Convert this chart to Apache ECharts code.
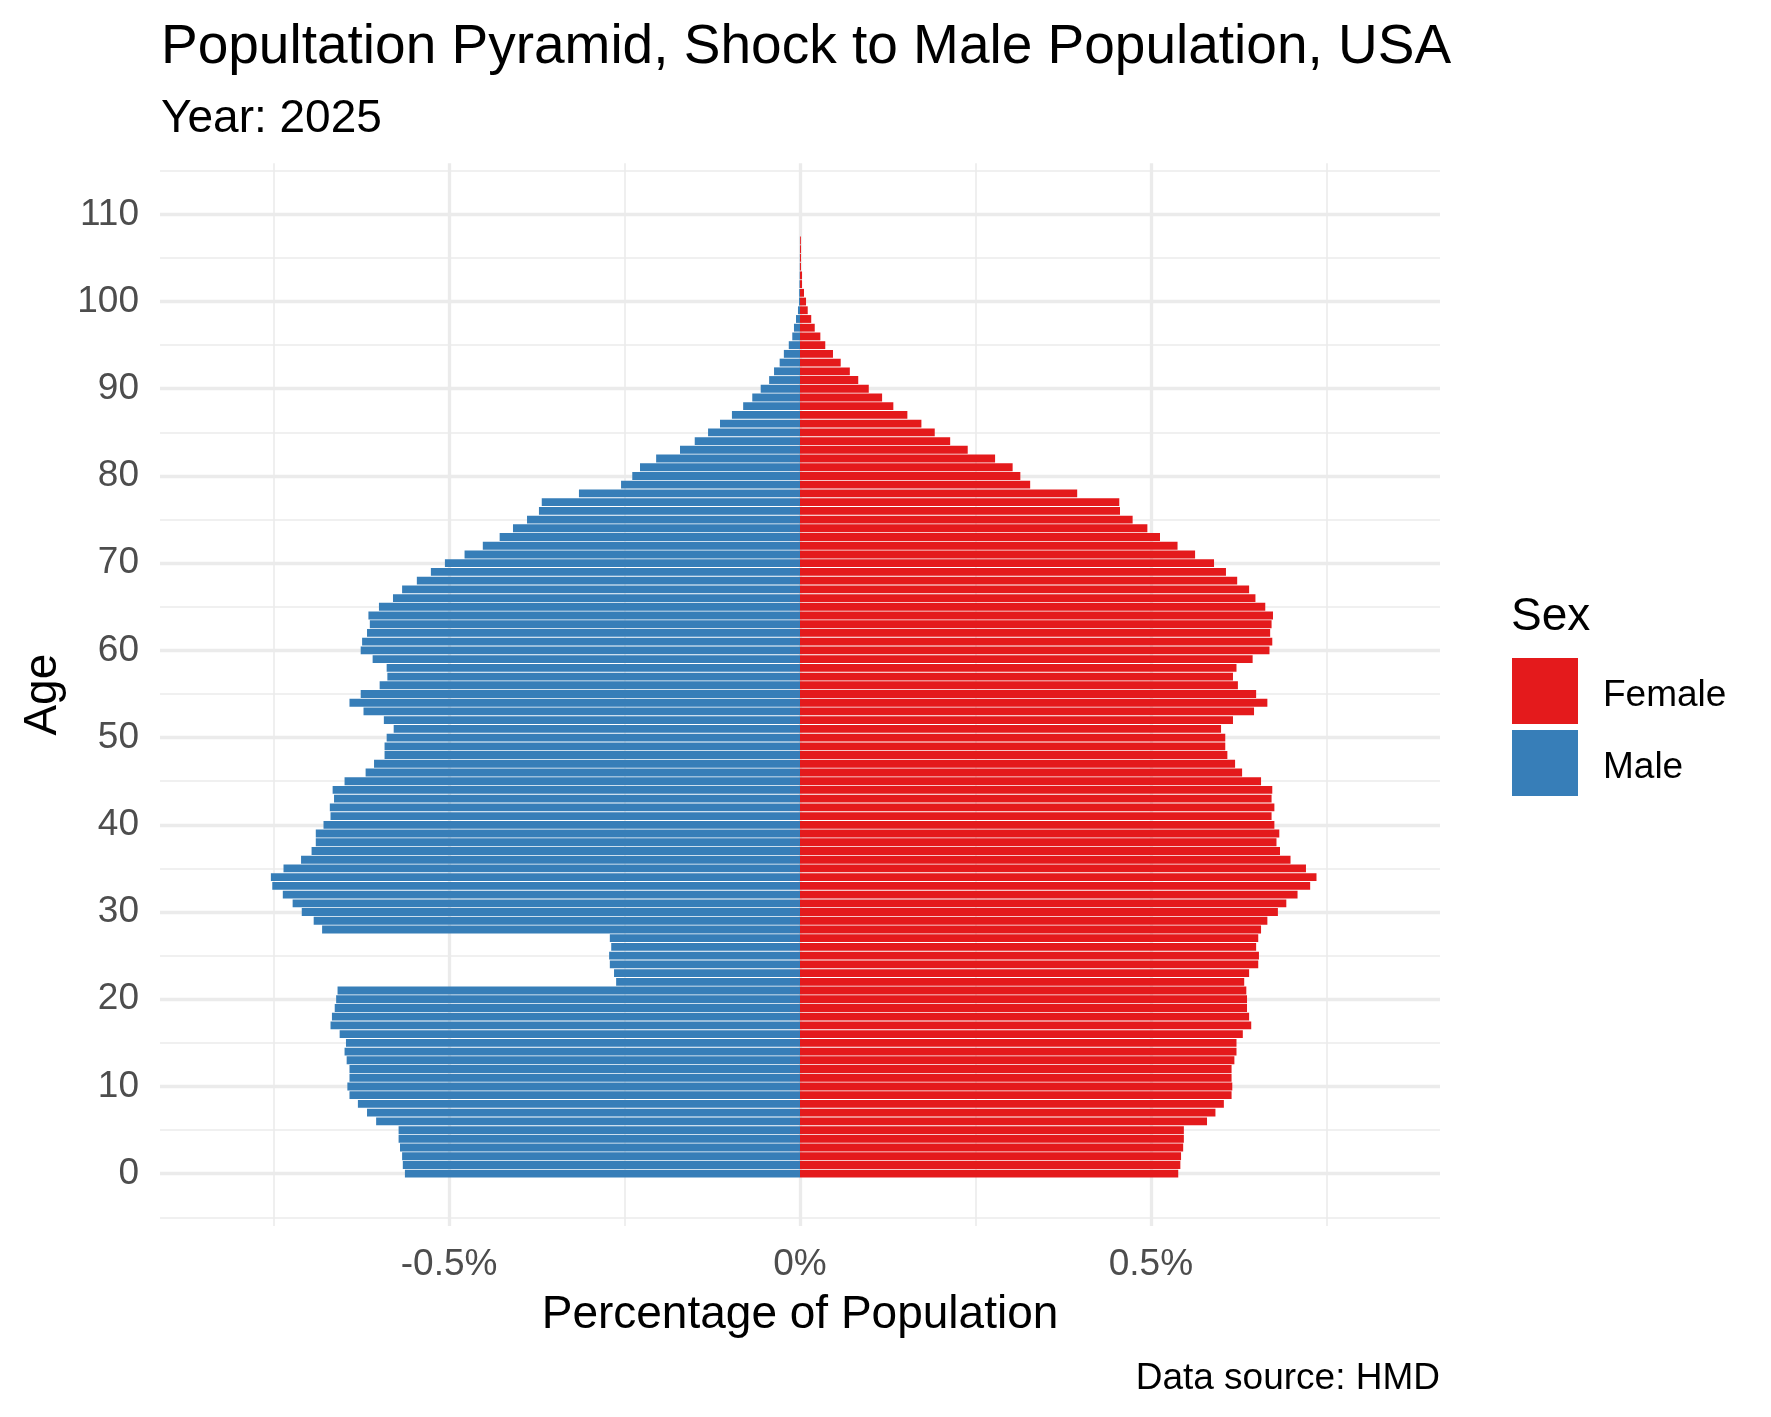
<!DOCTYPE html>
<html>
<head>
<meta charset="utf-8">
<script src="https://cdn.jsdelivr.net/npm/echarts@6/dist/echarts.min.js"></script>
<style>
html,body{margin:0;padding:0;background:#ffffff;}
#chart{width:1771px;height:1417px;}
</style>
</head>
<body>
<div id="chart"></div>
<script>
// ---- data (percent of total population, single years of age) ----
const ages = [0,1,2,3,4,5,6,7,8,9,10,11,12,13,14,15,16,17,18,19,20,21,22,23,24,25,26,27,28,29,
  30,31,32,33,34,35,36,37,38,39,40,41,42,43,44,45,46,47,48,49,50,51,52,53,54,55,56,57,58,59,
  60,61,62,63,64,65,66,67,68,69,70,71,72,73,74,75,76,77,78,79,80,81,82,83,84,85,86,87,88,89,
  90,91,92,93,94,95,96,97,98,99,100,101,102,103,104,105,106,107];

const maleValues = [0.563,0.566,0.567,0.570,0.572,0.572,0.604,0.617,0.630,0.642,
  0.645,0.642,0.642,0.646,0.649,0.647,0.656,0.669,0.667,0.663,
  0.661,0.659,0.262,0.265,0.271,0.272,0.269,0.271,0.681,0.693,
  0.710,0.723,0.737,0.752,0.754,0.736,0.711,0.696,0.690,0.690,
  0.679,0.669,0.670,0.664,0.666,0.649,0.619,0.607,0.592,0.592,
  0.589,0.579,0.593,0.622,0.642,0.626,0.599,0.588,0.589,0.609,
  0.626,0.624,0.617,0.613,0.615,0.600,0.580,0.567,0.546,0.526,
  0.506,0.478,0.452,0.428,0.409,0.389,0.372,0.368,0.315,0.255,
  0.239,0.228,0.205,0.171,0.150,0.131,0.114,0.097,0.081,0.068,
  0.056,0.044,0.037,0.029,0.023,0.016,0.011,0.0086,0.0057,0.0029,
  0.0014,0.0012,0.0008,0.0005,0.0003,0.0002,0.0001,0.0001];

const femaleValues = [0.539,0.542,0.543,0.546,0.547,0.547,0.580,0.592,0.604,0.615,
  0.616,0.615,0.615,0.619,0.622,0.622,0.631,0.643,0.640,0.637,
  0.637,0.636,0.633,0.640,0.653,0.654,0.650,0.653,0.657,0.666,
  0.681,0.693,0.709,0.727,0.736,0.721,0.699,0.684,0.679,0.683,
  0.676,0.672,0.676,0.672,0.673,0.657,0.630,0.620,0.609,0.606,
  0.606,0.600,0.617,0.647,0.666,0.650,0.624,0.617,0.622,0.645,
  0.669,0.673,0.670,0.672,0.674,0.663,0.649,0.640,0.623,0.607,
  0.590,0.563,0.538,0.513,0.495,0.474,0.456,0.455,0.395,0.328,
  0.314,0.303,0.278,0.239,0.214,0.192,0.173,0.153,0.133,0.117,
  0.098,0.083,0.071,0.058,0.047,0.036,0.029,0.021,0.016,0.011,
  0.0086,0.0057,0.0029,0.0029,0.0014,0.0014,0.0014,0.0012];

const xMajorTicks = [-0.5, 0, 0.5];
const xMinorTicks = [-0.75, -0.25, 0.25, 0.75];
const yMajorTicks = [0, 10, 20, 30, 40, 50, 60, 70, 80, 90, 100, 110];
const yMinorTicks = [-5, 5, 15, 25, 35, 45, 55, 65, 75, 85, 95, 105, 115];

const sexNames = ['Female', 'Male'];

// ---- build ----
const FONT = 'Liberation Sans, Arial, Helvetica, sans-serif';
const GRID_COLOR = '#EBEBEB';
const maleData = ages.map((a, i) => [a, -maleValues[i]]);
const femaleData = ages.map((a, i) => [a, femaleValues[i]]);

function renderBar(params, api) {
  const age = api.value(0);
  const v = api.value(1);
  const p1 = api.coord([0, age + 0.45]);
  const p2 = api.coord([v, age - 0.45]);
  return {
    type: 'rect',
    shape: {
      x: Math.min(p1[0], p2[0]),
      y: Math.min(p1[1], p2[1]),
      width: Math.abs(p2[0] - p1[0]),
      height: Math.abs(p2[1] - p1[1])
    },
    style: { fill: api.visual('color') }
  };
}

const chart = echarts.init(document.getElementById('chart'), null, { renderer: 'canvas' });

const hiddenAxisParts = {
  axisLine: { show: false },
  axisLabel: { show: false },
  axisTick: { show: false }
};

chart.setOption({
  animation: false,
  backgroundColor: '#ffffff',
  textStyle: { fontFamily: FONT },
  title: [
    { text: 'Popultation Pyramid, Shock to Male Population, USA', left: 161, top: 20, padding: 0,
      textStyle: { fontFamily: FONT, fontSize: 55, fontWeight: 'normal', color: '#000000' } },
    { text: 'Year: 2025', left: 161, top: 96, padding: 0,
      textStyle: { fontFamily: FONT, fontSize: 46, fontWeight: 'normal', color: '#000000' } },
    { text: 'Sex', left: 1511, top: 594, padding: 0,
      textStyle: { fontFamily: FONT, fontSize: 46, fontWeight: 'normal', color: '#000000' } },
    { text: 'Data source: HMD', right: 331, top: 1360, padding: 0,
      textStyle: { fontFamily: FONT, fontSize: 37, fontWeight: 'normal', color: '#000000' } }
  ],
  legend: {
    data: sexNames,
    orient: 'vertical',
    left: 1512,
    top: 658,
    itemWidth: 66,
    itemHeight: 66,
    itemGap: 6,
    icon: 'rect',
    padding: 0,
    selectedMode: false,
    formatter: name => '{t|' + name + '}',
    textStyle: {
      fontFamily: FONT, fontSize: 37, color: '#000000',
      rich: { t: { fontFamily: FONT, fontSize: 37, color: '#000000', padding: [10, 0, 0, 20] } }
    }
  },
  grid: { left: 160, right: 331, top: 163.3, bottom: 191, containLabel: false },
  xAxis: [
    {
      type: 'value', min: -0.912, max: 0.912,
      name: 'Percentage of Population', nameLocation: 'middle', nameGap: 66.5,
      nameTextStyle: { fontFamily: FONT, fontSize: 46, color: '#000000' },
      axisLine: { show: false, onZero: false },
      axisTick: { show: false, customValues: xMajorTicks },
      axisLabel: {
        show: true, customValues: xMajorTicks, margin: 20,
        fontFamily: FONT, fontSize: 37, color: '#4D4D4D',
        formatter: v => (Math.round(v * 10) / 10) + '%'
      },
      splitLine: { show: true, customValues: xMajorTicks, lineStyle: { color: GRID_COLOR, width: 3.3 } }
    },
    Object.assign({
      type: 'value', min: -0.912, max: 0.912, position: 'bottom',
      splitLine: { show: true, lineStyle: { color: GRID_COLOR, width: 1.6 } }
    }, hiddenAxisParts, {
      axisLine: { show: false, onZero: false },
      axisTick: { show: false, customValues: xMinorTicks }
    })
  ],
  yAxis: [
    {
      type: 'value', min: -6.0, max: 115.85,
      name: 'Age', nameLocation: 'middle', nameGap: 94, nameRotate: 90,
      nameTextStyle: { fontFamily: FONT, fontSize: 46, color: '#000000' },
      axisLine: { show: false, onZero: false },
      axisTick: { show: false, customValues: yMajorTicks },
      axisLabel: {
        show: true, customValues: yMajorTicks, margin: 21,
        fontFamily: FONT, fontSize: 37, color: '#4D4D4D'
      },
      splitLine: { show: true, lineStyle: { color: GRID_COLOR, width: 3.3 } }
    },
    Object.assign({
      type: 'value', min: -6.0, max: 115.85, position: 'left',
      splitLine: { show: true, lineStyle: { color: GRID_COLOR, width: 1.6 } }
    }, hiddenAxisParts, {
      axisLine: { show: false, onZero: false },
      axisTick: { show: false, customValues: yMinorTicks }
    })
  ],
  series: [
    {
      name: 'Female', type: 'custom', xAxisIndex: 0, yAxisIndex: 0,
      itemStyle: { color: '#E41A1C' },
      encode: { x: 1, y: 0 },
      renderItem: renderBar,
      data: femaleData
    },
    {
      name: 'Male', type: 'custom', xAxisIndex: 0, yAxisIndex: 0,
      itemStyle: { color: '#377EB8' },
      encode: { x: 1, y: 0 },
      renderItem: renderBar,
      data: maleData
    }
  ]
});
</script>
</body>
</html>
